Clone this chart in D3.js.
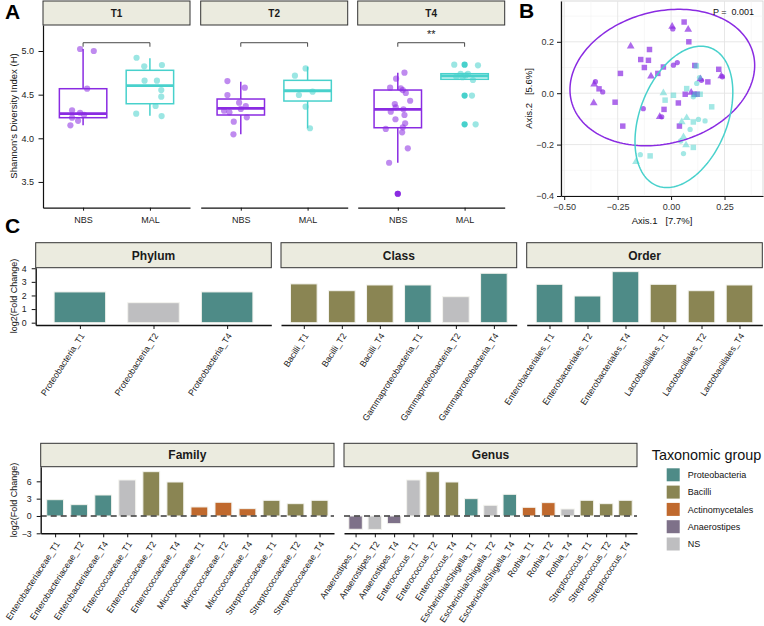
<!DOCTYPE html>
<html>
<head>
<meta charset="utf-8">
<script src="https://cdn.jsdelivr.net/npm/d3@7/dist/d3.min.js"></script>
<style>
html,body{margin:0;padding:0;background:#fff;}
svg text{font-family:"Liberation Sans",Arial,Helvetica,sans-serif;}
</style>
</head>
<body>
<svg id="chart" width="764" height="626" xmlns="http://www.w3.org/2000/svg"></svg>
<script>
// ================= DATA =================
// ---- Panel A: Shannon diversity ----
const timepoints = ["T1", "T2", "T4"];
const cohorts = ["NBS", "MAL"];
const sigLabels = ["", "", "**"];
const yTicksA = [3.5, 4.0, 4.5, 5.0];
// box statistics per timepoint (T1, T2, T4)
const nbsQ1 = [4.236, 4.267, 4.121];
const nbsMedian = [4.282, 4.344, 4.332];
const nbsQ3 = [4.568, 4.450, 4.553];
const nbsWhiskLo = [4.149, 4.046, 3.720];
const nbsWhiskHi = [5.023, 4.648, 4.752];
const nbsOutliers = [[], [], [3.365]];
const malQ1 = [4.396, 4.427, 4.676];
const malMedian = [4.603, 4.545, 4.714];
const malQ3 = [4.779, 4.664, 4.740];
const malWhiskLo = [4.259, 4.115, 4.668];
const malWhiskHi = [4.916, 4.820, 4.737];
const malOutliers = [[], [], [4.843, 4.490, 4.160]];
// individual samples, with horizontal jitter (fraction of category step)
const nbsT1 = [5.023, 5.000, 4.568, 4.320, 4.293, 4.270, 4.236, 4.200, 4.149];
const nbsT1Jit = [-0.045, 0.16, 0.06, -0.165, -0.045, 0.015, -0.165, -0.075, -0.19];
const malT1 = [4.923, 4.825, 4.840, 4.660, 4.660, 4.553, 4.477, 4.370, 4.282, 4.255];
const malT1Jit = [-0.2, -0.085, 0.18, -0.08, 0.105, 0.17, 0.17, 0.085, -0.205, 0.175];
const nbsT2 = [4.656, 4.580, 4.496, 4.408, 4.370, 4.316, 4.298, 4.336, 4.240, 4.190, 4.046];
const nbsT2Jit = [-0.2, 0.06, -0.2, -0.025, 0.075, -0.25, -0.17, 0.0, 0.09, -0.105, -0.11];
const malT2 = [4.800, 4.717, 4.496, 4.534, 4.362, 4.115];
const malT2Jit = [-0.03, -0.19, -0.13, 0.075, -0.03, 0.035];
const nbsT4 = [4.752, 4.683, 4.580, 4.573, 4.553, 4.520, 4.430, 4.393, 4.355, 4.332, 4.305, 4.267, 4.218, 4.172, 4.107, 4.126, 4.069, 3.885, 3.720, 3.365];
const nbsT4Jit = [0.1, -0.025, -0.115, 0.045, 0.075, 0.12, 0.185, -0.045, -0.03, 0.085, -0.105, 0.1, -0.035, 0.11, -0.18, 0.075, 0.065, 0.15, -0.13, 0.0];
const malT4 = [4.843, 4.836, 4.706, 4.737, 4.737, 4.668, 4.720, 4.700, 4.490, 4.160];
const malT4Jit = [-0.155, 0.2, -0.125, -0.06, 0.05, 0.125, 0.015, -0.03, 0.11, 0.165];

// ---- Panel B: PCoA ----
const pcoaXTicks = [-0.5, -0.25, 0, 0.25];
const pcoaYTicks = [-0.4, -0.2, 0, 0.2];
const pcoaNbsX = [0.005,0.008,0.061,0.080,0.083,-0.189,-0.101,-0.142,-0.106,-0.125,-0.237,-0.094,-0.062,-0.036,0.011,0.029,0.111,0.223,0.235,0.240,0.137,0.142,0.172,-0.354,-0.360,-0.337,-0.320,-0.362,-0.262,-0.130,-0.033,-0.053,-0.044,-0.226,0.034,0.066,0.094,0.108,0.122,0.039];
const pcoaNbsY = [0.260,0.250,0.277,0.248,0.200,0.183,0.170,0.131,0.128,0.100,0.077,0.066,0.077,0.102,0.109,0.119,0.108,0.093,0.067,0.064,0.055,0.050,0.044,0.045,0.035,0.017,0.005,-0.038,-0.035,-0.060,-0.063,-0.092,-0.092,-0.128,-0.038,-0.004,0.003,-0.004,-0.004,-0.128];
const pcoaNbsT = ["T2","T1","T4","T2","T4","T2","T4","T4","T4","T4","T4","T2","T4","T4","T1","T1","T4","T4","T2","T1","T2","T1","T4","T1","T2","T4","T1","T2","T4","T1","T4","T2","T1","T4","T4","T4","T2","T4","T4","T4"];
const pcoaMalX = [0.118,0.133,0.120,0.073,-0.036,0.011,-0.028,0.104,0.136,0.190,0.073,0.050,0.128,0.159,0.104,0.089,0.058,0.045,0.070,0.104,0.058,-0.144,-0.098,-0.164,0.112];
const pcoaMalY = [0.106,0.061,0.038,0.018,0.001,-0.008,-0.027,-0.014,-0.004,-0.053,-0.096,-0.112,-0.102,-0.108,-0.112,-0.141,-0.170,-0.186,-0.202,-0.211,-0.235,-0.239,-0.244,-0.267,-0.005];
const pcoaMalT = ["T4","T1","T1","T4","T2","T4","T4","T1","T4","T4","T2","T2","T1","T1","T4","T1","T2","T1","T2","T4","T1","T1","T4","T2","T4"];
// 95% ellipses: centre and two semi-axis vectors (data units)
const ellipseCohort = ["NBS", "MAL"];
const ellipseCx = [-0.041, 0.060];
const ellipseCy = [0.061, -0.092];
const ellipseAx1 = [[0.4246, 0.0946], [0.126, 0.268]];
const ellipseAx2 = [[0.080, -0.248], [0.191, -0.062]];

// ---- Panel C: log2 fold change ----
const taxGroups = ["Proteobacteria", "Bacilli", "Actinomycetales", "Anaerostipes", "NS"];
const phylumCats = ["Proteobacteria_T1", "Proteobacteria_T2", "Proteobacteria_T4"];
const phylumVals = [2.26, 1.47, 2.26];
const phylumGrp = ["Proteobacteria", "NS", "Proteobacteria"];
const classCats = ["Bacilli_T1", "Bacilli_T2", "Bacilli_T4", "Gammaproteobacteria_T1", "Gammaproteobacteria_T2", "Gammaproteobacteria_T4"];
const classVals = [2.85, 2.35, 2.77, 2.77, 1.91, 3.63];
const classGrp = ["Bacilli", "Bacilli", "Bacilli", "Proteobacteria", "NS", "Proteobacteria"];
const orderCats = ["Enterobacteriales_T1", "Enterobacteriales_T2", "Enterobacteriales_T4", "Lactobacillales_T1", "Lactobacillales_T2", "Lactobacillales_T4"];
const orderVals = [2.82, 1.96, 3.75, 2.82, 2.35, 2.77];
const orderGrp = ["Proteobacteria", "Proteobacteria", "Proteobacteria", "Bacilli", "Bacilli", "Bacilli"];
const familyCats = ["Enterobacteriaceae_T1", "Enterobacteriaceae_T2", "Enterobacteriaceae_T4", "Enterococcaceae_T1", "Enterococcaceae_T2", "Enterococcaceae_T4", "Micrococcaceae_T1", "Micrococcaceae_T2", "Micrococcaceae_T4", "Streptococcaceae_T1", "Streptococcaceae_T2", "Streptococcaceae_T4"];
const familyVals = [2.82, 1.96, 3.63, 6.23, 7.67, 5.88, 1.56, 2.37, 1.27, 2.71, 2.13, 2.71];
const familyGrp = ["Proteobacteria", "Proteobacteria", "Proteobacteria", "NS", "Bacilli", "Bacilli", "Actinomycetales", "Actinomycetales", "Actinomycetales", "Bacilli", "Bacilli", "Bacilli"];
const genusCats = ["Anaerostipes_T1", "Anaerostipes_T2", "Anaerostipes_T4", "Enterococcus_T1", "Enterococcus_T2", "Enterococcus_T4", "Escherichia/Shigella_T1", "Escherichia/Shigella_T2", "Escherichia/Shigella_T4", "Rothia_T1", "Rothia_T2", "Rothia_T4", "Streptococcus_T1", "Streptococcus_T2", "Streptococcus_T4"];
const genusVals = [-2.30, -2.33, -1.33, 6.23, 7.67, 5.88, 3.00, 1.85, 3.75, 1.50, 2.31, 1.21, 2.71, 2.13, 2.71];
const genusGrp = ["Anaerostipes", "NS", "Anaerostipes", "NS", "Bacilli", "Bacilli", "Proteobacteria", "NS", "Proteobacteria", "Actinomycetales", "Actinomycetales", "NS", "Bacilli", "Bacilli", "Bacilli"];
const yTicksTop = [0, 1, 2, 3, 4];
const yTicksBottom = [-3, 0, 3, 6];

// ================= STYLE =================
const purple = "#8A2BE2", teal = "#48D1CC";
const stripFill = "#EBEBDF";
const cohortColor = d3.scaleOrdinal().domain(cohorts).range([purple, teal]);
const taxColor = d3.scaleOrdinal().domain(taxGroups).range(["#4E8B87", "#8A8553", "#C0692D", "#7E7189", "#BEBEC0"]);
const shapeScale = d3.scaleOrdinal().domain(["T1", "T2", "T4"]).range([d3.symbolCircle, d3.symbolTriangle, d3.symbolSquare]);
const shapeSize = d3.scaleOrdinal().domain(["T1", "T2", "T4"]).range([22, 26, 30]);

const svg = d3.select("#chart");

function styleAxis(g, fs, col) {
  g.attr("font-family", null).attr("font-size", null);
  g.select(".domain").attr("stroke", "#111").attr("stroke-width", 1.2);
  g.selectAll(".tick line").attr("stroke", "#111").attr("stroke-width", 1);
  g.selectAll(".tick text").attr("font-size", fs).attr("fill", col || "#222");
}

// ================= PANEL A =================
const aTop = 25, aBottom = 207.7, aW = 147;
const aLefts = [43, 200.7, 357.7];
const yA = d3.scaleLinear().domain([3.205, 5.298]).range([aBottom, aTop]);
const sampleVals = { NBS: [nbsT1, nbsT2, nbsT4], MAL: [malT1, malT2, malT4] };
const sampleJit = { NBS: [nbsT1Jit, nbsT2Jit, nbsT4Jit], MAL: [malT1Jit, malT2Jit, malT4Jit] };
const boxStats = {
  NBS: { q1: nbsQ1, med: nbsMedian, q3: nbsQ3, lo: nbsWhiskLo, hi: nbsWhiskHi, out: nbsOutliers },
  MAL: { q1: malQ1, med: malMedian, q3: malQ3, lo: malWhiskLo, hi: malWhiskHi, out: malOutliers }
};

timepoints.forEach((tp, i) => {
  const left = aLefts[i];
  const g = svg.append("g");
  g.append("rect").attr("x", left).attr("y", 1).attr("width", aW).attr("height", aTop - 1)
    .attr("fill", stripFill).attr("stroke", "#333").attr("stroke-width", 1);
  g.append("text").attr("x", left + aW / 2).attr("y", 13).attr("dy", "0.36em").attr("text-anchor", "middle")
    .attr("font-weight", "bold").attr("font-size", 10).attr("fill", "#1a1a1a").text(tp);
  const xA = d3.scalePoint().domain(cohorts).range([left, left + aW]).padding(0.6);
  const st = xA.step();
  cohorts.forEach(c => {
    const s = boxStats[c], cx = xA(c), col = cohortColor(c), hw = st * 0.355;
    g.append("line").attr("x1", cx).attr("x2", cx).attr("y1", yA(s.hi[i])).attr("y2", yA(s.q3[i])).attr("stroke", col).attr("stroke-width", 1.5);
    g.append("line").attr("x1", cx).attr("x2", cx).attr("y1", yA(s.q1[i])).attr("y2", yA(s.lo[i])).attr("stroke", col).attr("stroke-width", 1.5);
    g.append("rect").attr("x", cx - hw).attr("width", 2 * hw).attr("y", yA(s.q3[i])).attr("height", yA(s.q1[i]) - yA(s.q3[i]))
      .attr("fill", "white").attr("stroke", col).attr("stroke-width", 1.5);
    g.append("line").attr("x1", cx - hw).attr("x2", cx + hw).attr("y1", yA(s.med[i])).attr("y2", yA(s.med[i])).attr("stroke", col).attr("stroke-width", 2.8);
    g.selectAll(null).data(s.out[i]).join("circle").attr("cx", cx).attr("cy", d => yA(d)).attr("r", 3.1).attr("fill", col);
    const vals = sampleVals[c][i], jit = sampleJit[c][i];
    g.selectAll(null).data(vals).join("circle")
      .attr("cx", (d, k) => cx + jit[k] * st).attr("cy", d => yA(d)).attr("r", 3.1)
      .attr("fill", col).attr("fill-opacity", 0.55);
  });
  // significance bracket
  const x1 = xA("NBS"), x2 = xA("MAL");
  g.append("path").attr("d", `M${x1},${yA(5.049)}V${yA(5.095)}H${x2}V${yA(5.049)}`)
    .attr("fill", "none").attr("stroke", "#333").attr("stroke-width", 0.9);
  if (sigLabels[i]) {
    g.append("text").attr("x", (x1 + x2) / 2).attr("y", yA(5.095) - 5).attr("text-anchor", "middle")
      .attr("font-size", 11).attr("fill", "#222").text(sigLabels[i]);
  }
  const ax = g.append("g").attr("transform", `translate(0,${aBottom})`)
    .call(d3.axisBottom(xA).tickSize(3).tickSizeOuter(0));
  styleAxis(ax, 9);
  ax.selectAll(".tick text").attr("y", 9);
  if (i === 0) {
    const ay = g.append("g").attr("transform", `translate(${left},0)`)
      .call(d3.axisLeft(yA).tickValues(yTicksA).tickFormat(d3.format(".1f")).tickSize(4.5).tickSizeOuter(0));
    styleAxis(ay, 9);
    ay.selectAll(".tick text").attr("x", -9);
  }
});
svg.append("text").attr("transform", "translate(16.5,116) rotate(-90)").attr("text-anchor", "middle")
  .attr("font-size", 9.5).attr("fill", "#111").text("Shannon's Diversity Index (H)");

// ================= PANEL B =================
const bL = 561, bR = 763, bT = 1, bB = 196;
const xB = d3.scaleLinear().domain([-0.515, 0.43]).range([bL, bR]);
const yB = d3.scaleLinear().domain([-0.4, 0.3588]).range([bB, bT]);
const gB = svg.append("g");
gB.append("rect").attr("x", bL).attr("y", bT).attr("width", bR - bL).attr("height", bB - bT).attr("fill", "white").attr("stroke", "#d0d0d0").attr("stroke-width", 0.8);
const minorX = [-0.375, -0.125, 0.125, 0.375], minorY = [-0.3, -0.1, 0.1, 0.3];
gB.selectAll(null).data(minorX).join("line").attr("x1", d => xB(d)).attr("x2", d => xB(d)).attr("y1", bT).attr("y2", bB).attr("stroke", "#F2F2F2").attr("stroke-width", 0.6);
gB.selectAll(null).data(minorY).join("line").attr("y1", d => yB(d)).attr("y2", d => yB(d)).attr("x1", bL).attr("x2", bR).attr("stroke", "#F2F2F2").attr("stroke-width", 0.6);
gB.selectAll(null).data(pcoaXTicks).join("line").attr("x1", d => xB(d)).attr("x2", d => xB(d)).attr("y1", bT).attr("y2", bB).attr("stroke", "#E4E4E4").attr("stroke-width", 0.9);
gB.selectAll(null).data(pcoaYTicks).join("line").attr("y1", d => yB(d)).attr("y2", d => yB(d)).attr("x1", bL).attr("x2", bR).attr("stroke", "#E4E4E4").attr("stroke-width", 0.9);

function drawPoints(xs, ys, ts, c, op) {
  gB.selectAll(null).data(xs).join("path")
    .attr("transform", (d, k) => `translate(${xB(d)},${yB(ys[k])})`)
    .attr("d", (d, k) => d3.symbol().type(shapeScale(ts[k])).size(shapeSize(ts[k]))())
    .attr("fill", cohortColor(c)).attr("fill-opacity", op);
}
drawPoints(pcoaNbsX, pcoaNbsY, pcoaNbsT, "NBS", 0.7);
drawPoints(pcoaMalX, pcoaMalY, pcoaMalT, "MAL", 0.5);

const angles = d3.range(0, 2 * Math.PI, Math.PI / 90);
ellipseCohort.forEach((c, i) => {
  const pts = angles.map(t => [
    ellipseCx[i] + ellipseAx1[i][0] * Math.cos(t) + ellipseAx2[i][0] * Math.sin(t),
    ellipseCy[i] + ellipseAx1[i][1] * Math.cos(t) + ellipseAx2[i][1] * Math.sin(t)
  ]);
  gB.append("path").attr("d", d3.line().x(d => xB(d[0])).y(d => yB(d[1])).curve(d3.curveLinearClosed)(pts))
    .attr("fill", "none").attr("stroke", cohortColor(c)).attr("stroke-width", 1.5);
});
const bxAx = gB.append("g").attr("transform", `translate(0,${bB})`)
  .call(d3.axisBottom(xB).tickValues(pcoaXTicks).tickFormat(d3.format(".2f")).tickSize(4).tickSizeOuter(0));
styleAxis(bxAx, 9, "#333");
bxAx.selectAll(".tick text").attr("y", 8);
const byAx = gB.append("g").attr("transform", `translate(${bL},0)`)
  .call(d3.axisLeft(yB).tickValues(pcoaYTicks).tickFormat(d3.format(".1f")).tickSize(4).tickSizeOuter(0));
styleAxis(byAx, 9, "#333");
byAx.selectAll(".tick text").attr("x", -7);
gB.append("text").attr("x", 754).attr("y", 14.5).attr("text-anchor", "end").attr("font-size", 9).attr("fill", "#111")
  .style("white-space", "pre").text("P =  0.001");
gB.append("text").attr("x", (bL + bR) / 2).attr("y", 224).attr("text-anchor", "middle").attr("font-size", 9.5).attr("fill", "#111")
  .style("white-space", "pre").text("Axis.1   [7.7%]");
gB.append("text").attr("transform", `translate(531.5,${(bT + bB) / 2}) rotate(-90)`).attr("text-anchor", "middle").attr("font-size", 9.5).attr("fill", "#111")
  .style("white-space", "pre").text("Axis.2   [5.6%]");

// ================= PANEL C =================
function barPanel(cfg) {
  const x = d3.scalePoint().domain(cfg.cats).range([cfg.x0, cfg.x1]).padding(0.6);
  const bw = x.step() * 0.7;
  const y = cfg.y;
  const g = svg.append("g");
  g.append("rect").attr("x", cfg.x0).attr("y", cfg.sTop).attr("width", cfg.x1 - cfg.x0).attr("height", cfg.sBot - cfg.sTop)
    .attr("fill", stripFill).attr("stroke", "#333").attr("stroke-width", 1);
  g.append("text").attr("x", (cfg.x0 + cfg.x1) / 2).attr("y", (cfg.sTop + cfg.sBot) / 2).attr("dy", "0.36em")
    .attr("text-anchor", "middle").attr("font-weight", "bold").attr("font-size", 12).attr("fill", "#1a1a1a").text(cfg.title);
  g.selectAll(null).data(cfg.cats).join("rect")
    .attr("x", d => x(d) - bw / 2).attr("width", bw)
    .attr("y", (d, k) => y(Math.max(0, cfg.vals[k])))
    .attr("height", (d, k) => Math.abs(y(cfg.vals[k]) - y(0)))
    .attr("fill", (d, k) => taxColor(cfg.grps[k])).attr("stroke", "#f3f3ee").attr("stroke-width", 1);
  if (cfg.zero) {
    g.append("line").attr("x1", cfg.x0).attr("x2", cfg.x1).attr("y1", y(0)).attr("y2", y(0))
      .attr("stroke", "#3a3a3a").attr("stroke-width", 1.6).attr("stroke-dasharray", "6,4");
  }
  const ax = g.append("g").attr("transform", `translate(0,${cfg.bottom})`)
    .call(d3.axisBottom(x).tickSize(4).tickSizeOuter(0));
  styleAxis(ax, 8.8);
  ax.select(".domain").attr("stroke-width", 1.4);
  ax.selectAll(".tick text").attr("x", 0).attr("y", 0).attr("dy", "0.35em").attr("text-anchor", "end")
    .attr("transform", "translate(2,9) rotate(-57)");
  if (cfg.showY) {
    const ay = g.append("g").attr("transform", `translate(${cfg.x0},0)`)
      .call(d3.axisLeft(y).tickValues(cfg.yTicks).tickFormat(d3.format("d")).tickSize(4).tickSizeOuter(0));
    styleAxis(ay, 8.8);
    ay.select(".domain").attr("stroke-width", 1.4);
    ay.selectAll(".tick text").attr("x", -9);
  }
}
const yTop = d3.scaleLinear().domain([-0.17, 4.04]).range([325, 267.7]);
const yBot = d3.scaleLinear().domain([-3.0, 8.53]).range([533.3, 466.7]);
barPanel({ cats: phylumCats, vals: phylumVals, grps: phylumGrp, x0: 35.7, x1: 271.3, sTop: 242.7, sBot: 267.7, bottom: 325, y: yTop, title: "Phylum", showY: true, yTicks: yTicksTop });
barPanel({ cats: classCats, vals: classVals, grps: classGrp, x0: 281, x1: 516.7, sTop: 242.7, sBot: 267.7, bottom: 325, y: yTop, title: "Class" });
barPanel({ cats: orderCats, vals: orderVals, grps: orderGrp, x0: 526.7, x1: 762.3, sTop: 242.7, sBot: 267.7, bottom: 325, y: yTop, title: "Order" });
barPanel({ cats: familyCats, vals: familyVals, grps: familyGrp, x0: 40.7, x1: 334, sTop: 443.3, sBot: 466.7, bottom: 533.3, y: yBot, title: "Family", showY: true, yTicks: yTicksBottom, zero: true });
barPanel({ cats: genusCats, vals: genusVals, grps: genusGrp, x0: 344, x1: 637, sTop: 443.3, sBot: 466.7, bottom: 533.3, y: yBot, title: "Genus", zero: true });
svg.append("text").attr("transform", "translate(16.5,296) rotate(-90)").attr("text-anchor", "middle")
  .attr("font-size", 9).attr("fill", "#111").text("log2(Fold Change)");
svg.append("text").attr("transform", "translate(16.5,500) rotate(-90)").attr("text-anchor", "middle")
  .attr("font-size", 9).attr("fill", "#111").text("log2(Fold Change)");

// legend
const lg = svg.append("g");
lg.append("text").attr("x", 651.7).attr("y", 459.5).attr("font-size", 14.4).attr("fill", "#111").text("Taxonomic group");
lg.selectAll(null).data(taxGroups).join("rect").attr("x", 666.7).attr("y", (d, i) => 468.3 + i * 17.3)
  .attr("width", 13).attr("height", 13).attr("fill", d => taxColor(d));
lg.selectAll(null).data(taxGroups).join("text").attr("x", 687.7).attr("y", (d, i) => 474.8 + i * 17.3).attr("dy", "0.35em")
  .attr("font-size", 9).attr("fill", "#111").text(d => d);

// panel letters
svg.append("text").attr("x", 5).attr("y", 19).attr("font-size", 21).attr("font-weight", "bold").text("A");
svg.append("text").attr("x", 519).attr("y", 17.5).attr("font-size", 21).attr("font-weight", "bold").text("B");
svg.append("text").attr("x", 5).attr("y", 233).attr("font-size", 21).attr("font-weight", "bold").text("C");
</script>
</body>
</html>
